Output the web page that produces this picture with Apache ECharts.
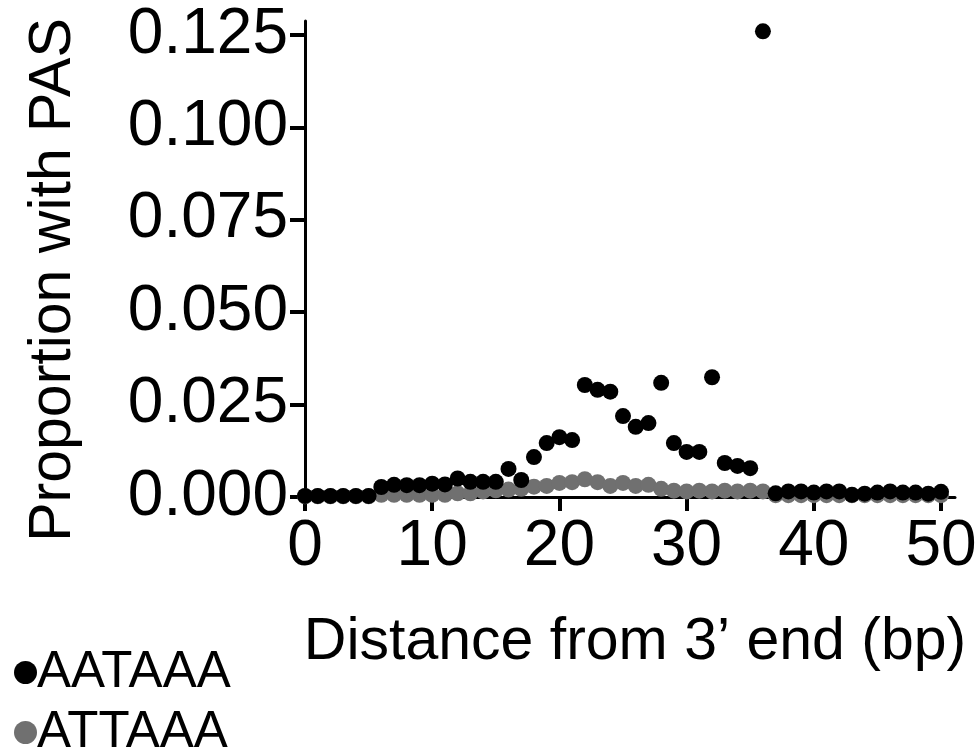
<!DOCTYPE html>
<html>
<head>
<meta charset="utf-8">
<script src="https://cdn.jsdelivr.net/npm/echarts@6/dist/echarts.min.js"></script>
<style>
  html, body { margin: 0; padding: 0; background: #fff; }
  #chart { width: 978px; height: 751px; }
</style>
</head>
<body>
<div id="chart"></div>
<script>
// distance from 3' end, bp
const distances = [0, 1, 2, 3, 4, 5, 6, 7, 8, 9, 10, 11, 12, 13, 14, 15, 16, 17, 18, 19, 20,
  21, 22, 23, 24, 25, 26, 27, 28, 29, 30, 31, 32, 33, 34, 35, 36, 37, 38, 39, 40,
  41, 42, 43, 44, 45, 46, 47, 48, 49, 50]

// proportion with PAS
const aataaa = [0.0003, 0.0003, 0.0003, 0.0003, 0.0003, 0.0003, 0.0027, 0.0033, 0.0032, 0.0032, 0.0036,
  0.0034, 0.0050, 0.0041, 0.0041, 0.0041, 0.0076, 0.0046, 0.0108, 0.0146, 0.0162,
  0.0154, 0.0303, 0.0290, 0.0285, 0.0219, 0.0190, 0.0200, 0.0309, 0.0146, 0.0122,
  0.0122, 0.0324, 0.0092, 0.0084, 0.0078, 0.1260, 0.0010, 0.0015, 0.0015, 0.0012,
  0.0015, 0.0015, 0.0006, 0.0009, 0.0012, 0.0015, 0.0012, 0.0012, 0.0009, 0.0014]

const attaaa = [0.0002, 0.0002, 0.0002, 0.0002, 0.0002, 0.0002, 0.0006, 0.0006, 0.0006, 0.0006, 0.0006,
  0.0006, 0.0010, 0.0010, 0.0015, 0.0018, 0.0020, 0.0022, 0.0028, 0.0030, 0.0038,
  0.0040, 0.0048, 0.0040, 0.0030, 0.0038, 0.0030, 0.0033, 0.0022, 0.0017, 0.0015,
  0.0017, 0.0015, 0.0017, 0.0015, 0.0017, 0.0015, 0.0005, 0.0005, 0.0005, 0.0005,
  0.0005, 0.0005, 0.0005, 0.0005, 0.0005, 0.0005, 0.0005, 0.0005, 0.0005, 0.0005]

const seriesNames = ['AATAAA', 'ATTAAA']
const xTicks = [0, 10, 20, 30, 40, 50]
const yTicks = [0, 0.025, 0.05, 0.075, 0.1, 0.125]

const font = 'Liberation Sans, Arial, sans-serif'

const chart = echarts.init(document.getElementById('chart'), null, { renderer: 'canvas' })

const pairs = (ys) => distances.map((d, i) => [d, ys[i]])

// one legend per row, stacked at the bottom left
const legendRow = (name, top) => ({
  data: [name],
  left: 14,
  top: top,
  icon: 'circle',
  itemWidth: 23,
  itemHeight: 23,
  padding: 0,
  textStyle: { fontFamily: font, fontSize: 51, color: '#000', padding: [0, 0, 0, -5] }
})

chart.setOption({
  backgroundColor: '#fff',
  animation: false,
  grid: {
    left: 305,
    right: 23,
    top: 21,
    bottom: 254,
    outerBoundsMode: 'none'
  },
  legend: [
    legendRow(seriesNames[0], 647),
    legendRow(seriesNames[1], 707)
  ],
  xAxis: {
    type: 'value',
    min: 0,
    max: 51.1,
    name: 'Distance from 3\u2019 end (bp)',
    nameLocation: 'middle',
    nameGap: 116,
    nameTextStyle: { fontFamily: font, fontSize: 59, color: '#000', padding: [0, 0, 0, 10] },
    axisLine: { lineStyle: { color: '#000', width: 3 } },
    axisTick: { customValues: xTicks, length: 14, lineStyle: { color: '#000', width: 4 } },
    axisLabel: { customValues: xTicks, fontFamily: font, fontSize: 64, color: '#000', margin: 18 },
    splitLine: { show: false }
  },
  yAxis: {
    type: 'value',
    min: 0,
    max: 0.1288,
    name: 'Proportion with PAS',
    nameLocation: 'middle',
    nameGap: 222,
    nameTextStyle: { fontFamily: font, fontSize: 59, color: '#000', padding: [0, 42, 0, 0] },
    axisLine: { onZero: false, lineStyle: { color: '#000', width: 3 } },
    axisTick: { customValues: yTicks, length: 15, lineStyle: { color: '#000', width: 4 } },
    axisLabel: {
      customValues: yTicks,
      fontFamily: font,
      fontSize: 64,
      color: '#000',
      margin: 17,
      formatter: (v) => v.toFixed(3)
    },
    splitLine: { show: false }
  },
  series: [
    {
      name: seriesNames[1],
      type: 'scatter',
      symbol: 'circle',
      symbolSize: 16,
      itemStyle: { color: '#707070', opacity: 1 },
      z: 2,
      data: pairs(attaaa)
    },
    {
      name: seriesNames[0],
      type: 'scatter',
      symbol: 'circle',
      symbolSize: 16,
      itemStyle: { color: '#000', opacity: 1 },
      z: 3,
      data: pairs(aataaa)
    }
  ]
})
</script>
</body>
</html>
